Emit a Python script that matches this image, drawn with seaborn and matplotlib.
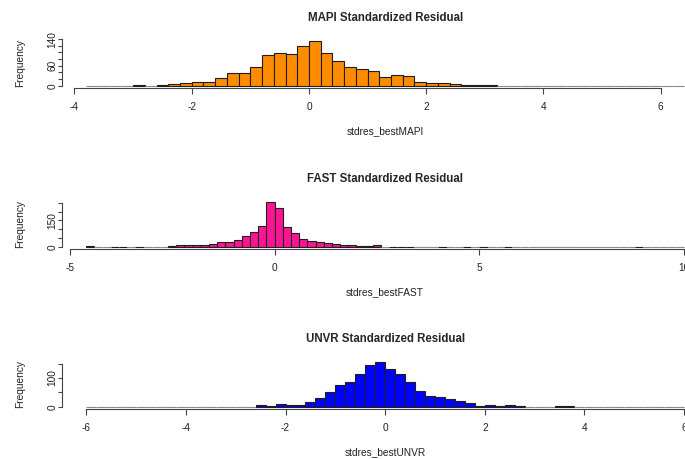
import pandas as pd
import matplotlib
matplotlib.use("Agg")
import matplotlib.pyplot as plt
import seaborn as sns

# histogram counts (bin width 0.2, first break given)
bin_width = 0.2

mapi_start = -3.8
mapi_counts = [0, 0, 0, 0, 1, 0, 1,
               6, 8, 12, 12, 22, 37, 37, 55, 93, 97, 95, 118, 135, 99, 74,
               57, 51, 45, 25, 31, 28, 12, 7, 7, 5, 3, 1, 1,
               0, 0, 0, 0, 0, 0, 0, 0, 0, 0, 0, 0, 0, 0, 0, 0]

fast_start = -4.6
fast_counts = [2, 0, 0, 1, 1, 0, 1, 0, 0, 0, 2,
               12, 7, 7, 11, 16, 24, 29, 37, 63, 84, 118, 256, 222, 111, 79,
               45, 33, 24, 20, 13, 11, 9, 5, 2, 10,
               0, 1, 1, 1, 0, 0, 0, 1, 0, 0, 1, 0, 1, 0, 0, 1,
               0, 0, 0, 0, 0, 0, 0, 0, 0, 0, 0, 0, 0, 0, 0, 1,
               0, 0, 0, 0, 0]

unvr_start = -6.0
unvr_counts = [0, 0, 0, 0, 0, 0, 0, 0, 0, 0, 0, 0, 0, 0, 0, 0, 0,
               6, 3, 9, 7, 7, 16, 31, 51, 76, 87, 114, 144, 156, 132, 115,
               86, 56, 36, 32, 28, 21, 14, 4, 7, 1, 5, 2,
               0, 0, 0, 1, 1, 0, 0, 0, 0, 0, 0, 0, 0, 0, 0, 0]

titles = ["MAPI Standardized Residual", "FAST Standardized Residual",
          "UNVR Standardized Residual"]
xlabels = ["stdres_bestMAPI", "stdres_bestFAST", "stdres_bestUNVR"]
colors = ["#FF8C00", "#FF1493", "#0000FF"]

mapi_xticks = [-4, -2, 0, 2, 4, 6]
fast_xticks = [-5, 0, 5, 10]
unvr_xticks = [-6, -4, -2, 0, 2, 4, 6]

mapi_yticks = [0, 20, 40, 60, 80, 100, 120, 140]
mapi_ylabels = ["0", "", "", "60", "", "", "", "140"]
fast_yticks = [0, 50, 100, 150, 200, 250]
fast_ylabels = ["0", "", "", "150", "", ""]
unvr_yticks = [0, 50, 100, 150]
unvr_ylabels = ["0", "", "100", ""]

panels = [
    (mapi_start, mapi_counts, mapi_xticks, mapi_yticks, mapi_ylabels),
    (fast_start, fast_counts, fast_xticks, fast_yticks, fast_ylabels),
    (unvr_start, unvr_counts, unvr_xticks, unvr_yticks, unvr_ylabels),
]

sns.set_style("white")
plt.rcParams["font.family"] = ["Liberation Sans", "DejaVu Sans"]

W, H = 685, 459
fig = plt.figure(figsize=(W / 100, H / 100), dpi=100)

# layout in pixels (R plot regions, right side is cropped in the picture)
x0_px, x1_px = 62.3, 708.0
bottoms_px = [87.5, 248.5, 408.5]
h_px = 48.5
AX = "#444444"
EDGE = "#1e1e1e"

for i, (start, counts, xt, yt, yl) in enumerate(panels):
    edges = [start + bin_width * k for k in range(len(counts) + 1)]
    df = pd.DataFrame({
        "x": [(edges[k] + edges[k + 1]) / 2 for k in range(len(counts))],
        "w": counts,
    })

    ax = fig.add_axes([x0_px / W, 1 - bottoms_px[i] / H,
                       (x1_px - x0_px) / W, h_px / H])
    sns.histplot(data=df, x="x", weights="w", bins=edges, color=colors[i],
                 edgecolor=EDGE, linewidth=0.8, alpha=1, ax=ax)
    # empty bins only show as a thin grey line, like in R
    for p in ax.patches:
        if p.get_height() == 0:
            p.set_edgecolor("#8a8a8a")

    r = edges[-1] - edges[0]
    m = max(counts)
    ax.set_xlim(edges[0] - 0.04 * r, edges[-1] + 0.04 * r)
    ax.set_ylim(-0.04 * m, 1.04 * m)

    ax.set_xticks(xt)
    ax.set_xticklabels([str(v) for v in xt])
    ax.set_yticks(yt)
    ax.set_yticklabels(yl)

    for s in ["top", "right"]:
        ax.spines[s].set_visible(False)
    ax.spines["left"].set_bounds(yt[0], yt[-1])
    ax.spines["bottom"].set_bounds(xt[0], xt[-1])
    for s in ["left", "bottom"]:
        ax.spines[s].set_color(AX)
        ax.spines[s].set_linewidth(0.8)

    ax.tick_params(axis="both", direction="out", width=0.8, color=AX,
                   labelsize=7.3, labelcolor="#222222",
                   bottom=True, left=True)
    ax.tick_params(axis="x", length=4.0, pad=6.5)
    ax.tick_params(axis="y", length=3.2, pad=0.4)
    plt.setp(ax.get_yticklabels(), rotation=90, va="center", ha="right")

    ax.set_title(titles[i], fontsize=8.3, fontweight="bold", pad=13.3)
    ax.set_xlabel(xlabels[i], fontsize=7.3, color="#222222")
    ax.set_ylabel("Frequency", fontsize=7.3, color="#222222")
    ax.xaxis.set_label_coords(0.5, -(126 - 87.5) / h_px)
    ax.yaxis.set_label_coords((25 - x0_px) / (x1_px - x0_px), 0.5)
    ax.grid(False)

fig.savefig("out.png", dpi=100)
